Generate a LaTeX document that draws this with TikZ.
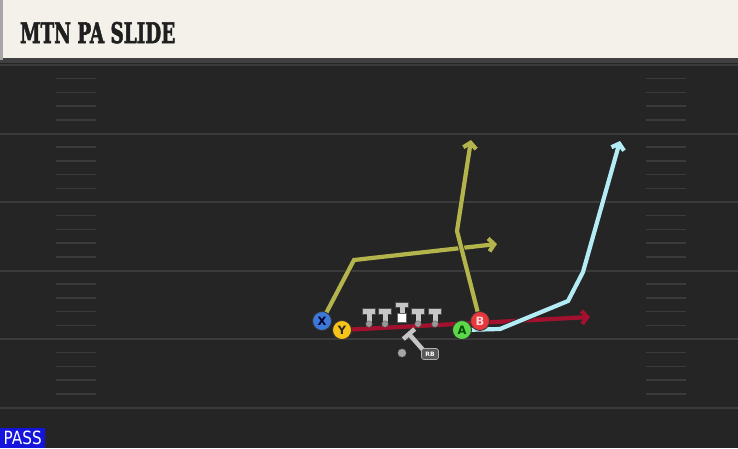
\documentclass[tikz,border=0pt]{standalone}
\usepackage{fontspec}
\setmainfont{DejaVu Sans}
\newfontfamily\titlefont{DejaVu Serif}[BoldFeatures={FakeBold=2.5}]
\usetikzlibrary{arrows.meta}

\definecolor{fieldgray}{HTML}{252525}
\definecolor{linegray}{HTML}{3B3B3B}
\definecolor{headcream}{HTML}{F4F1EA}
\definecolor{routeolive}{HTML}{B4B44C}
\definecolor{routecyan}{HTML}{B4ECF6}
\definecolor{routered}{HTML}{A3112E}
\definecolor{xblue}{HTML}{3B78D8}
\definecolor{yyellow}{HTML}{F6C419}
\definecolor{agreen}{HTML}{5CD64B}
\definecolor{bred}{HTML}{E8373C}
\definecolor{passblue}{HTML}{1414DC}
\definecolor{olgray}{HTML}{C6C6C6}

\pgfdeclarelayer{field}
\pgfdeclarelayer{routes}
\pgfsetlayers{field,routes,main}

\tikzset{
  player/.style={circle, draw=black!80, line width=0.8pt, minimum size=19pt,
                 inner sep=0pt, font=\bfseries\fontsize{11.5}{11.5}\selectfont},
  route/.style={line width=4.2pt, line join=miter,
                preaction={draw=black!85, line width=5.8pt},
                -{Straight Barb[length=5.5pt,width=13pt]}},
  yardline/.style={draw=linegray, line width=2pt},
  hash/.style={draw=linegray, line width=1.5pt},
}

\begin{document}
\begin{tikzpicture}[x=1pt,y=-1pt]
\useasboundingbox (0,0) rectangle (738,448);

\begin{pgfonlayer}{field}
% field and header
\fill[fieldgray] (0,0) rectangle (738,448);
\fill[black!75] (0,58) rectangle (738,63);
\fill[headcream] (3,0) rectangle (738,58);
\fill[gray!70] (0,0) rectangle (3,60);
\draw (20,43) node (title) [anchor=base west, inner sep=0pt, text=black!88]
      {\resizebox{155pt}{21pt}{\titlefont\bfseries MTN PA SLIDE}} ;

% yard lines and hash marks
\foreach \y in {65,133.5,...,340} {
  \draw[yardline] (0,\y) -- (738,\y);
  \foreach \k in {1,...,4} {
    \draw[hash] (56,\y+13.7*\k) -- (96,\y+13.7*\k);
    \draw[hash] (646,\y+13.7*\k) -- (686,\y+13.7*\k);
  }
}
\draw[yardline] (0,407.5) -- (738,407.5);
\end{pgfonlayer}

% players
\draw (322,321) node (X) [player, fill=xblue, text=black!85!blue]     {X} ;
\draw (342,330) node (Y) [player, fill=yyellow, text=black!85]       {Y} ;
\draw (462,330) node (A) [player, fill=agreen, text=black!70!green]  {A} ;
\draw (480,321) node (B) [player, fill=bred, text=white!85!red]      {B} ;

% route points
\coordinate (xBreak) at (354,260);
\coordinate (xEnd)   at (497,244);
\coordinate (bBreak) at (457,231);
\coordinate (bEnd)   at (471,140);
\coordinate (yEnd)   at (590,317);
\coordinate (aFlat)  at (500,329);
\coordinate (aBend1) at (568,301);
\coordinate (aBend2) at (583,272);
\coordinate (aEnd)   at (620,141);

\begin{pgfonlayer}{routes}
\draw[route, routered]   (Y.center) -- (yEnd);
\draw[route, routecyan]  (A.center) -- (aFlat) -- (aBend1) -- (aBend2) -- (aEnd);
\draw[route, routeolive] (X.center) -- (xBreak) -- (xEnd);
\draw[route, routeolive] (B.center) -- (bBreak) -- (bEnd);
\end{pgfonlayer}

% offensive line
\foreach \x in {369,385,418,435} {
  \fill[olgray, draw=black!70, line width=0.5pt]
    (\x-6.5,308.5) rectangle (\x+6.5,314.5);
  \fill[olgray] (\x-2.5,314) rectangle (\x+2.5,323);
  \fill[gray!80, draw=black!60, line width=0.5pt] (\x,324) circle (3.2);
}
\fill[olgray, draw=black!70, line width=0.5pt] (395.5,302) rectangle (408.5,307.5);
\fill[olgray] (399.5,307) rectangle (404.5,313);
\fill[white, draw=black!60, line width=0.5pt] (397.5,313) rectangle (406.5,322);

% running back
\draw[olgray, line width=4.5pt] (409,334) -- (424,351);
\draw[olgray, line width=4.5pt] (403.3,339) -- (414.7,329);
\fill[gray!70, draw=black!60, line width=0.4pt] (402,353) circle (4.2);
\draw (430,354) node (rb) [rounded corners=2.5pt, fill=black!65, draw=gray!60,
      line width=0.7pt, minimum width=17pt, minimum height=11pt, inner sep=0pt,
      text=white!85, font=\bfseries\fontsize{6}{6}\selectfont] {RB} ;

% play type tag
\draw (0,448) node (pass) [anchor=south west, fill=passblue, minimum width=45pt,
      minimum height=20pt, inner sep=0pt, text=white]
      {\resizebox{38pt}{13.5pt}{PASS}} ;

\end{tikzpicture}
\end{document}
